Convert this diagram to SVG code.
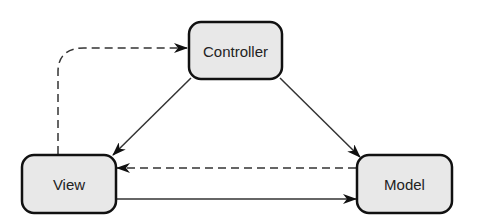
<svg xmlns="http://www.w3.org/2000/svg" width="481" height="224" viewBox="0 0 481 224">
<style>
.node rect{fill:#e8e8e8;stroke:#111;stroke-width:2.5}
.node text{font-family:"Liberation Sans",Arial,sans-serif;font-size:15px;fill:#222;text-anchor:middle;dominant-baseline:central}
.edge{fill:none;stroke:#333;stroke-width:1.5;marker-end:url(#arr)}
.dash{stroke-dasharray:8,5}
</style>
<defs>
<marker id="arr" viewBox="0 0 14 10" refX="13" refY="5" markerWidth="14" markerHeight="10" markerUnits="userSpaceOnUse" orient="auto">
<path d="M0,0 L14,5 L0,10 L4,5 z" fill="#111"/>
</marker>
</defs>
<rect width="481" height="224" fill="#fff"/>
<g id="connectors">
<path class="edge" d="M191,78 L113,155"/>
<path class="edge" d="M280,78 L360,157"/>
<path class="edge" d="M117,199 L356,199"/>
<path class="edge dash" d="M356,168 L117,168"/>
<path class="edge dash" d="M58,154 L58,72 Q58,48 84,48 L187,48"/>
</g>
<g id="controller" class="node"><rect x="189" y="22" width="93" height="57" rx="12"/><text x="235.5" y="51">Controller</text></g>
<g id="view" class="node"><rect x="22" y="155" width="94" height="58" rx="12"/><text x="69" y="184">View</text></g>
<g id="model" class="node"><rect x="357" y="155" width="95" height="58" rx="12"/><text x="404.5" y="184">Model</text></g>
</svg>
